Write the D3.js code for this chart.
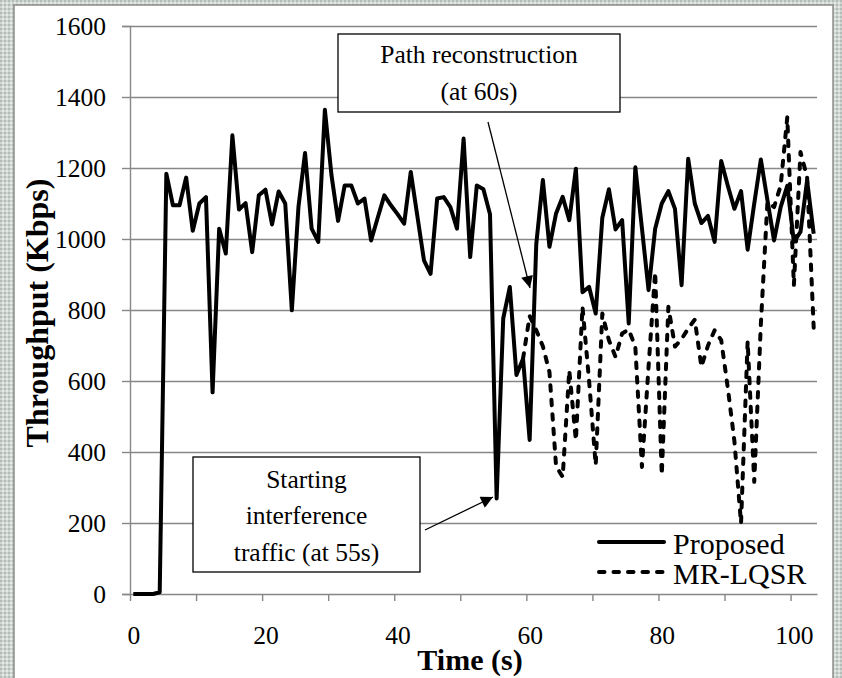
<!DOCTYPE html>
<html>
<head>
<meta charset="utf-8">
<script src="https://cdn.jsdelivr.net/npm/d3@7/dist/d3.min.js"></script>
<style>
  body { margin: 0; background: #fff; }
  svg { display: block; }
  text { font-family: "Liberation Serif", "Times New Roman", serif; fill: #000; }
</style>
</head>
<body>
<svg class="chart"></svg>
<script>
// throughput per second, Kbps
var proposed = [
  0, 0, 0, 0, 5,
  1184, 1095, 1095, 1173, 1023, 1100, 1118, 568, 1029, 959,
  1292, 1083, 1101, 963, 1123, 1139, 1041, 1134, 1100, 799,
  1090, 1242, 1029, 992, 1364, 1180, 1051, 1151, 1151, 1100,
  1114, 996, 1060, 1123, 1095, 1070, 1043, 1189, 1065, 940,
  902, 1114, 1118, 1090, 1029, 1283, 949, 1151, 1140, 1070,
  269, 776, 865, 617, 663, 434, 985, 1166, 978, 1072,
  1119, 1053, 1198, 850, 865, 790, 1060, 1140, 1027, 1053,
  762, 1202, 1030, 856, 1029, 1100, 1135, 1085, 870, 1226,
  1100, 1045, 1065, 992, 1220, 1150, 1085, 1135, 970, 1100,
  1224, 1109, 996, 1090, 1150, 992, 1020, 1165, 1015
];

// MR-LQSR follows the same curve until the path is rebuilt, so it is listed from 59 s on
var mrLqsrStart = 59;
var mrLqsr = [
  663, 783, 743, 698, 625, 360, 330, 630, 433, 809,
  600, 363, 790, 715, 668, 734, 745, 696, 358, 640,
  907, 335, 809, 697, 718, 748, 773, 640, 700, 743,
  715, 580, 430, 199, 712, 316, 760, 1105, 1090, 1150,
  1343, 870, 1245, 1175, 750
];

var yTicks = [0, 200, 400, 600, 800, 1000, 1200, 1400, 1600];
var xTickLabels = [0, 20, 40, 60, 80, 100];
var seriesNames = ["Proposed", "MR-LQSR"];

const chart = {
  width: 842, height: 678,
  plotLeft: 130, plotRight: 817, plotTop: 26, plotBottom: 594,
  grid: "#878787",
  lineWidth: 4,
  dash: "5.5,9"
};

var svg = d3.select(".chart").attr("width", chart.width).attr("height", chart.height);

// textured frame round the chart
var defs = svg.append("defs");
var pat = defs.append("pattern")
  .attr("id", "frame")
  .attr("width", 4).attr("height", 4)
  .attr("patternUnits", "userSpaceOnUse");
pat.append("rect").attr("width", 4).attr("height", 4).attr("fill", "#cfd6d2");
pat.append("rect").attr("width", 2).attr("height", 2).attr("fill", "#b3bdb7");
pat.append("rect").attr("x", 2).attr("y", 2).attr("width", 2).attr("height", 2).attr("fill", "#e4e9e6");

defs.append("marker")
  .attr("id", "arrow")
  .attr("viewBox", "0 0 10 10")
  .attr("refX", 10).attr("refY", 5)
  .attr("markerUnits", "userSpaceOnUse")
  .attr("markerWidth", 13).attr("markerHeight", 12)
  .attr("orient", "auto")
  .append("path")
  .attr("d", "M0,0L10,5L0,10Z")
  .attr("fill", "#000");

svg.append("rect").attr("width", chart.width).attr("height", chart.height).attr("fill", "url(#frame)");
svg.append("rect")
  .attr("x", 14).attr("y", 5).attr("width", 819).attr("height", 680)
  .attr("fill", "#fff").attr("stroke", "#8c8c8c").attr("stroke-width", 1.5);

// category axis: one slot per second, points in the middle of each slot
var xScale = d3.scaleLinear().domain([0, proposed.length]).range([chart.plotLeft, chart.plotRight]);
var yScale = d3.scaleLinear().domain([0, 1600]).range([chart.plotBottom, chart.plotTop]);

// gridlines
svg.append("g")
  .attr("transform", `translate(${chart.plotLeft}, 0)`)
  .call(d3.axisLeft(yScale).tickValues(yTicks.slice(1)).tickSize(-(chart.plotRight - chart.plotLeft)).tickFormat(""))
  .call(g => g.select(".domain").remove())
  .call(g => g.selectAll("line").attr("stroke", chart.grid).attr("stroke-width", 1.4));

// y axis
var yAxis = svg.append("g")
  .attr("transform", `translate(${chart.plotLeft}, 0)`)
  .call(d3.axisLeft(yScale).tickValues(yTicks).tickSize(8).tickPadding(16).tickFormat(d3.format("d")));
yAxis.select(".domain").attr("stroke", chart.grid).attr("stroke-width", 1.4);
yAxis.selectAll("line").attr("stroke", chart.grid).attr("stroke-width", 1.4);
yAxis.selectAll("text").attr("font-size", 25.5).attr("font-family", "Liberation Serif").attr("dy", "0.34em");

// x axis: ticks on slot edges every 10, labels in slot centres every 20
var xAxis = svg.append("g")
  .attr("transform", `translate(0, ${chart.plotBottom})`)
  .call(d3.axisBottom(xScale).tickValues(d3.range(0, proposed.length + 1, 10)).tickSize(7).tickFormat("").tickSizeOuter(0));
xAxis.select(".domain").attr("stroke", chart.grid).attr("stroke-width", 1.4);
xAxis.selectAll("line").attr("stroke", chart.grid).attr("stroke-width", 1.4);

var xLabels = svg.append("g")
  .attr("transform", `translate(0, ${chart.plotBottom})`)
  .call(d3.axisBottom(xScale).tickValues(xTickLabels.map(d => d + 0.5)).tickSize(0).tickPadding(32).tickFormat(d => d - 0.5));
xLabels.select(".domain").remove();
xLabels.selectAll("text").attr("font-size", 25.5).attr("font-family", "Liberation Serif");

// axis titles
svg.append("text")
  .attr("x", 470).attr("y", 670)
  .attr("text-anchor", "middle")
  .attr("font-size", 30).attr("font-weight", "bold")
  .text("Time (s)");

svg.append("text")
  .attr("transform", "translate(48, 313) rotate(-90)")
  .attr("text-anchor", "middle")
  .attr("font-size", 32).attr("font-weight", "bold")
  .text("Throughput (Kbps)");

var line = d3.line()
  .x(d => xScale(d[0] + 0.5))
  .y(d => yScale(d[1]));

var proposedPts = proposed.map((v, i) => [i, v]);
var mrPts = mrLqsr.map((v, i) => [mrLqsrStart + i, v]);

svg.append("path")
  .datum(proposedPts)
  .attr("d", line)
  .attr("fill", "none")
  .attr("stroke", "#000")
  .attr("stroke-width", chart.lineWidth)
  .attr("stroke-linejoin", "round");

svg.append("path")
  .datum(mrPts)
  .attr("d", line)
  .attr("fill", "none")
  .attr("stroke", "#000")
  .attr("stroke-width", chart.lineWidth)
  .attr("stroke-linejoin", "round")
  .attr("stroke-linecap", "round")
  .attr("stroke-dasharray", chart.dash);

// legend
var legend = svg.append("g");
seriesNames.forEach(function(name, i) {
  var y = 542 + i * 30;
  legend.append("line")
    .attr("x1", 599).attr("x2", 664).attr("y1", y).attr("y2", y)
    .attr("stroke", "#000").attr("stroke-width", chart.lineWidth)
    .attr("stroke-linecap", "round")
    .attr("stroke-dasharray", i == 0 ? null : chart.dash);
  legend.append("text")
    .attr("x", 673).attr("y", y + 12)
    .attr("font-size", 30)
    .text(name);
});

// annotations
var notes = [
  { box: [338, 34, 282, 78], lines: ["Path reconstruction", "(at 60s)"], ty: [63, 100], from: [488, 122], to: [530, 288] },
  { box: [193, 457, 227, 115], lines: ["Starting", "interference", "traffic (at 55s)"], ty: [488, 524, 561], from: [425, 530], to: [493, 497] }
];
notes.forEach(function(n) {
  svg.append("line")
    .attr("x1", n.from[0]).attr("y1", n.from[1])
    .attr("x2", n.to[0]).attr("y2", n.to[1])
    .attr("stroke", "#000").attr("stroke-width", 1.3)
    .attr("marker-end", "url(#arrow)");
  svg.append("rect")
    .attr("x", n.box[0]).attr("y", n.box[1])
    .attr("width", n.box[2]).attr("height", n.box[3])
    .attr("fill", "#fff").attr("stroke", "#000").attr("stroke-width", 1.3);
  n.lines.forEach(function(t, j) {
    svg.append("text")
      .attr("x", n.box[0] + n.box[2] / 2).attr("y", n.ty[j])
      .attr("text-anchor", "middle")
      .attr("font-size", 25.5)
      .text(t);
  });
});
</script>
</body>
</html>
